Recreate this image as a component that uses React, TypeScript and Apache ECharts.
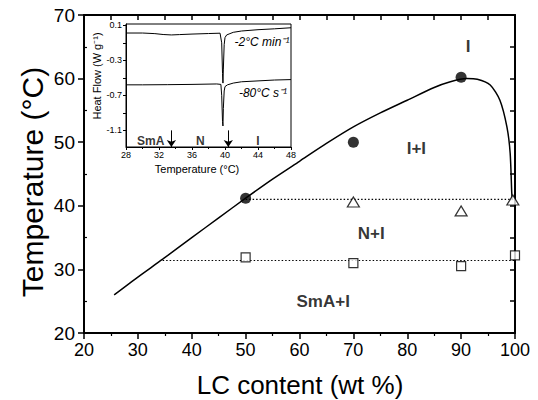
import React, { useEffect, useRef } from "react";
import * as echarts from "echarts";

// ---- main phase diagram data ----
const curveX = [25.6, 30, 34.6, 40, 45, 50, 55, 60, 65, 70, 75, 80, 85, 88, 91, 93, 95.4, 97.2, 98.5, 99.1, 99.4, 99.5];
const curveY = [26.0, 28.8, 31.6, 35.0, 38.1, 41.2, 44.2, 47.0, 49.8, 52.4, 54.6, 56.6, 58.6, 59.5, 60.0, 59.9, 59.0, 56.6, 52.4, 48.3, 42.0, 40.9];

const circleX = [50, 70, 90];
const circleY = [41.2, 50.0, 60.2];

const triangleX = [70, 90, 99.6];
const triangleY = [40.6, 39.2, 40.9];

const squareX = [50, 70, 90, 100];
const squareY = [31.9, 31.0, 30.5, 32.2];

const upperTieX = [50, 100];
const upperTieY = [41.0, 41.0];
const lowerTieX = [34.6, 100];
const lowerTieY = [31.4, 31.4];

const regionNames = ["I", "I+I", "N+I", "SmA+I"];
const regionX = [91.3, 81.7, 73.3, 64.4];
const regionY = [65.1, 49.0, 35.6, 24.9];

// ---- inset DSC data ----
const upperT = [28, 30, 31.5, 32.5, 33.5, 34.5, 36, 38, 39.4, 39.6, 39.7, 39.75, 39.8, 39.9, 40.0, 40.2, 40.6, 41, 42, 44, 46, 48];
const upperHF = [0.012, 0.012, 0.005, -0.005, -0.01, -0.006, 0.0, 0.006, 0.01, -0.1, -0.45, -0.56, -0.4, -0.12, -0.04, -0.01, 0.005, 0.02, 0.035, 0.05, 0.06, 0.072];

const lowerT = [28, 30, 33, 36, 39, 39.5, 39.6, 39.7, 39.75, 39.8, 39.9, 40.0, 40.3, 41, 42, 44, 46, 48];
const lowerHF = [-0.58, -0.58, -0.578, -0.575, -0.57, -0.575, -0.7, -1.0, -1.05, -0.85, -0.65, -0.6, -0.58, -0.56, -0.545, -0.535, -0.525, -0.52];

const arrowT = [33.5, 40.4];
const arrowTop = -1.1;
const arrowBottom = -1.29;

const phaseNames = ["SmA", "N", "I"];
const phaseT = [31.0, 37.0, 44.0];
const phaseHF = [-1.225, -1.225, -1.225];

const insetYLabels = [0.1, -0.3, -0.7, -1.1];
const insetYTicks = [0.1, -0.1, -0.3, -0.5, -0.7, -0.9, -1.1];

const FONT = "'Liberation Sans', Arial, Helvetica, sans-serif";

const zip = (xs: number[], ys: number[]) => xs.map((x, i) => [x, ys[i]]);

export default function App() {
  const ref = useRef<HTMLDivElement>(null);

  useEffect(() => {
    if (!ref.current) return;
    const chart = echarts.init(ref.current, undefined, { renderer: "svg" });
    const black = "#000";

    const option: any = {
      animation: false,
      backgroundColor: "#fff",
      textStyle: { fontFamily: FONT, color: black },
      grid: [
        { left: 84, top: 15, width: 431, height: 318, show: false },
        {
          left: 126,
          top: 24,
          width: 165,
          height: 123,
          show: true,
          borderColor: black,
          borderWidth: 1,
          backgroundColor: "#fff",
        },
      ],
      xAxis: [
        {
          type: "value",
          gridIndex: 0,
          min: 20,
          max: 100,
          interval: 10,
          position: "bottom",
          axisLine: { onZero: false, lineStyle: { color: black, width: 2 } },
          axisTick: { length: 6, lineStyle: { color: black, width: 1.5 } },
          minorTick: { show: true, splitNumber: 2, length: 3, lineStyle: { color: black, width: 1.2 } },
          axisLabel: { fontSize: 18, color: black, margin: 8, fontFamily: FONT },
          splitLine: { show: false },
        },
        {
          type: "value",
          gridIndex: 0,
          min: 20,
          max: 100,
          interval: 5,
          position: "top",
          axisLine: { onZero: false, lineStyle: { color: black, width: 2 } },
          axisTick: { inside: true, length: 5, lineStyle: { color: black, width: 1.5 } },
          axisLabel: { show: false },
          splitLine: { show: false },
        },
        {
          type: "value",
          gridIndex: 1,
          min: 28,
          max: 48,
          interval: 4,
          position: "bottom",
          axisLine: { onZero: false, lineStyle: { color: black, width: 1 } },
          axisTick: { length: 3, lineStyle: { color: black, width: 1 } },
          minorTick: { show: true, splitNumber: 2, length: 2, lineStyle: { color: black, width: 1 } },
          axisLabel: { fontSize: 9, color: black, margin: 3, fontFamily: FONT },
          splitLine: { show: false },
        },
      ],
      yAxis: [
        {
          type: "value",
          gridIndex: 0,
          min: 20,
          max: 70,
          interval: 10,
          position: "left",
          axisLine: { onZero: false, lineStyle: { color: black, width: 2 } },
          axisTick: { length: 6, lineStyle: { color: black, width: 1.5 } },
          axisLabel: { fontSize: 19, color: black, margin: 9, fontFamily: FONT },
          splitLine: { show: false },
        },
        {
          type: "value",
          gridIndex: 0,
          min: 20,
          max: 70,
          interval: 10,
          position: "left",
          axisLine: { show: false },
          axisTick: { show: false, inside: true },
          minorTick: { show: true, splitNumber: 2, length: 3, lineStyle: { color: black, width: 1.2 } },
          axisLabel: { show: false },
          splitLine: { show: false },
        },
        {
          type: "value",
          gridIndex: 0,
          min: 20,
          max: 70,
          interval: 5,
          position: "right",
          axisLine: { onZero: false, lineStyle: { color: black, width: 2 } },
          axisTick: { inside: true, length: 5, lineStyle: { color: black, width: 1.5 } },
          axisLabel: { show: false },
          splitLine: { show: false },
        },
        {
          type: "value",
          gridIndex: 1,
          min: -1.29,
          max: 0.115,
          position: "left",
          axisLine: { onZero: false, lineStyle: { color: black, width: 1 } },
          axisTick: { length: 3, customValues: insetYTicks, lineStyle: { color: black, width: 1 } },
          axisLabel: { fontSize: 9, color: black, margin: 4, customValues: insetYLabels, fontFamily: FONT },
          splitLine: { show: false },
        },
      ],
      series: [
        {
          type: "line",
          xAxisIndex: 0,
          yAxisIndex: 0,
          data: zip(curveX, curveY),
          smooth: 0.25,
          showSymbol: false,
          symbol: "none",
          lineStyle: { color: black, width: 1.5 },
          z: 2,
        },
        {
          type: "line",
          xAxisIndex: 0,
          yAxisIndex: 0,
          data: zip(upperTieX, upperTieY),
          symbol: "none",
          lineStyle: { color: black, width: 1.2, type: [1.5, 2] },
          z: 2,
        },
        {
          type: "line",
          xAxisIndex: 0,
          yAxisIndex: 0,
          data: zip(lowerTieX, lowerTieY),
          symbol: "none",
          lineStyle: { color: black, width: 1.2, type: [1.5, 2] },
          z: 2,
        },
        {
          type: "scatter",
          xAxisIndex: 0,
          yAxisIndex: 0,
          data: zip(circleX, circleY),
          symbol: "circle",
          symbolSize: 11,
          itemStyle: { color: black },
          clip: false,
          z: 4,
        },
        {
          type: "scatter",
          xAxisIndex: 0,
          yAxisIndex: 0,
          data: zip(triangleX, triangleY),
          symbol: "triangle",
          symbolSize: [12, 10],
          itemStyle: { color: "#fff", borderColor: black, borderWidth: 1.2 },
          clip: false,
          z: 4,
        },
        {
          type: "scatter",
          xAxisIndex: 0,
          yAxisIndex: 0,
          data: zip(squareX, squareY),
          symbol: "rect",
          symbolSize: 9,
          itemStyle: { color: "#fff", borderColor: black, borderWidth: 1.2 },
          clip: false,
          z: 4,
        },
        {
          type: "scatter",
          xAxisIndex: 0,
          yAxisIndex: 0,
          data: regionNames.map((n, i) => ({ name: n, value: [regionX[i], regionY[i]] })),
          symbol: "circle",
          symbolSize: 1,
          itemStyle: { color: "rgba(0,0,0,0)" },
          label: {
            show: true,
            position: "inside",
            formatter: (p: any) => p.name,
            fontSize: 17,
            fontWeight: "bold",
            color: black,
            fontFamily: FONT,
          },
          silent: true,
          z: 5,
        },
        // inset traces
        {
          type: "line",
          xAxisIndex: 2,
          yAxisIndex: 3,
          data: zip(upperT, upperHF),
          symbol: "none",
          lineStyle: { color: black, width: 1 },
          z: 10,
        },
        {
          type: "line",
          xAxisIndex: 2,
          yAxisIndex: 3,
          data: zip(lowerT, lowerHF),
          symbol: "none",
          lineStyle: { color: black, width: 1 },
          z: 10,
          markLine: {
            silent: true,
            symbol: ["none", "arrow"],
            symbolSize: 7,
            label: { show: false },
            itemStyle: { color: black },
            lineStyle: { color: black, width: 1, type: "solid" },
            data: arrowT.map((t) => [{ coord: [t, arrowTop] }, { coord: [t, arrowBottom] }]),
          },
        },
        {
          type: "scatter",
          xAxisIndex: 2,
          yAxisIndex: 3,
          data: phaseNames.map((n, i) => ({ name: n, value: [phaseT[i], phaseHF[i]] })),
          symbol: "circle",
          symbolSize: 1,
          itemStyle: { color: "rgba(0,0,0,0)" },
          label: {
            show: true,
            position: "inside",
            formatter: (p: any) => p.name,
            fontSize: 12,
            fontWeight: "bold",
            color: "#000",
            textBorderWidth: 0,
            fontFamily: FONT,
          },
          silent: true,
          z: 11,
        },
      ],
      graphic: [
        {
          type: "text",
          x: 32,
          y: 182,
          rotation: Math.PI / 2,
          style: {
            text: "Temperature (°C)",
            fontSize: 30,
            fontFamily: FONT,
            fill: black,
            textAlign: "center",
            textVerticalAlign: "middle",
          },
        },
        {
          type: "text",
          x: 300,
          y: 385,
          style: {
            text: "LC content (wt %)",
            fontSize: 26,
            fontFamily: FONT,
            fill: black,
            textAlign: "center",
            textVerticalAlign: "middle",
          },
        },
        {
          type: "text",
          x: 197,
          y: 169,
          style: {
            text: "Temperature (°C)",
            fontSize: 11,
            fontFamily: FONT,
            fill: black,
            textAlign: "center",
            textVerticalAlign: "middle",
          },
        },
        {
          type: "text",
          x: 97,
          y: 76,
          rotation: Math.PI / 2,
          style: {
            text: "Heat Flow (W g⁻¹)",
            fontSize: 11,
            fontFamily: FONT,
            fill: black,
            textAlign: "center",
            textVerticalAlign: "middle",
          },
        },
        {
          type: "text",
          x: 262,
          y: 42,
          z: 20,
          style: {
            text: "-2°C min⁻¹",
            fontSize: 12,
            fontStyle: "italic",
            fontFamily: FONT,
            fill: black,
            textAlign: "center",
            textVerticalAlign: "middle",
          },
        },
        {
          type: "text",
          x: 263,
          y: 93,
          z: 20,
          style: {
            text: "-80°C s⁻¹",
            fontSize: 12,
            fontStyle: "italic",
            fontFamily: FONT,
            fill: black,
            textAlign: "center",
            textVerticalAlign: "middle",
          },
        },
      ],
    };

    chart.setOption(option);
    return () => chart.dispose();
  }, []);

  return (
    <div
      ref={ref}
      style={{ position: "absolute", left: 0, top: 0, width: 538, height: 400 }}
    />
  );
}
